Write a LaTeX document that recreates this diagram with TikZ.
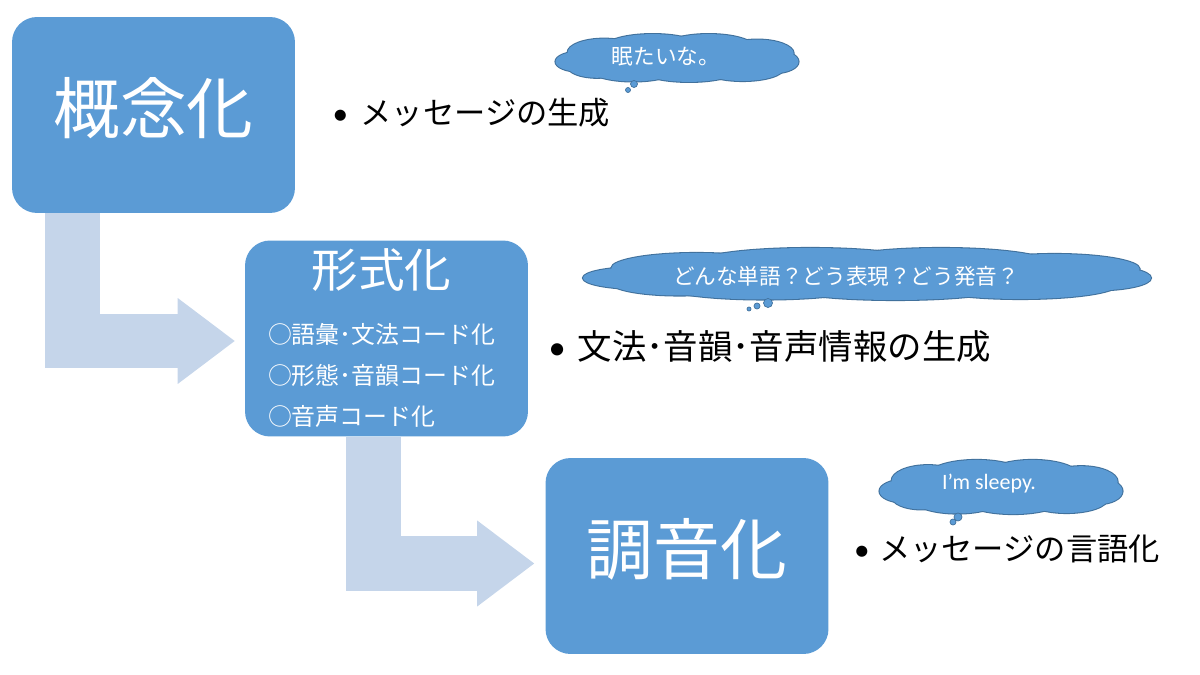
\documentclass[tikz,border=0pt]{standalone}
\usepackage{fontspec}
\setmainfont{Noto Sans CJK JP}
\newfontfamily\latinfont{Carlito}
\usetikzlibrary{arrows.meta,positioning}
\definecolor{bf}{HTML}{5B9BD5}
\definecolor{bb}{HTML}{41719C}
\definecolor{af}{HTML}{C5D5EA}
\newcommand\pufflist{-40/8/10/22,-30/-12/15/30,-10/-22/20/30,13/-22/19/30,33/-10/15/30,40/8/10/25,27/22/17/28,5/25/20/27,-18/24/18/27,-33/18/12/25}

\begin{document}
\begin{tikzpicture}[x=0.02cm,y=-0.02cm,
  bx/.style={fill=bf,rounded corners=0.5cm,minimum width=5.66cm,minimum height=3.92cm,text=white,inner sep=0pt},
  big/.style={font=\fontsize{38pt}{42pt}\selectfont,text depth=0.4cm},
  bl/.style={inner sep=0pt,font=\fontsize{17.8pt}{21pt}\selectfont},
  ct/.style={text=white,inner sep=0pt,font=\fontsize{12.3pt}{14pt}\selectfont},
  bu/.style={fill=bf,draw=bb,line width=0.4pt},
  puffs/.pic={
    \foreach \px/\py/\rx/\ry in \pufflist \draw[bb,line width=1.2pt] (\px,\py) ellipse[x radius=\rx,y radius=\ry];
    \foreach \px/\py/\rx/\ry in \pufflist \fill[bf] (\px,\py) ellipse[x radius=\rx,y radius=\ry];},
  ar/.style={draw=af,line width=1.1cm,line join=miter,-{Triangle[length=1.14cm,width=1.72cm,line width=0pt]}}]
\useasboundingbox (0,0) rectangle (1200,675);
\node[bx,big] (k) at (153.5,115) {概念化};
\node[bx,font=\fontsize{13.6pt}{23.6pt}\selectfont,text height=23pt,text depth=81pt] (f) at (386.5,338.5) {\hspace*{-0.1cm}\begin{tabular}[t]{@{}l@{}}\multicolumn{1}{@{}c@{}}{\fontsize{26.5pt}{30pt}\selectfont 形式化}\\[8pt]○語彙･文法コード化\\○形態･音韻コード化\\○音声コード化\end{tabular}\hspace*{0.1cm}};
\node[bx,big] (c) at (687,556) {調音化};
\draw[ar] ([xshift=-1.62cm]k.south) |- ([xshift=-0.2cm,yshift=-0.05cm]f.west);
\draw[ar] ([xshift=-0.27cm]f.south) |- ([xshift=-0.22cm,yshift=-0.15cm]c.west);
\node[bl,right=0.74cm of k,yshift=0.04cm] (kt) {\makebox[0.56cm][l]{\latinfont •}メッセージの生成};
\node[bl,right=0.4cm of f,yshift=-0.17cm,font=\fontsize{19.6pt}{22pt}\selectfont] (ft) {\makebox[0.58cm][l]{\latinfont •}文法･音韻･音声情報の生成};
\node[bl,right=0.5cm of c,yshift=0.14cm] (ct) {\makebox[0.5cm][l]{\latinfont •}メッセージの言語化};
\pic[xscale=2.43,yscale=0.46] at (677,58) {puffs};
\pic[xscale=5.68,yscale=0.5] at (867,274) {puffs};
\pic[xscale=2.43,yscale=0.52] at (1001,487) {puffs};
\node[ct] (u1) at (666,57) {眠たいな。};
\node[ct] (u2) at (846,276) {どんな単語？どう表現？どう発音？};
\node[ct,font=\latinfont\fontsize{12.5pt}{14pt}\selectfont] (u3) at (989,484) {I’m sleepy.};
\path[bu] (634,84) circle[radius=3.5] (628,90) circle[radius=2.5];
\path[bu] (768,303) circle[radius=4.5] (757,306) circle[radius=3] (749,309) circle[radius=2];
\path[bu] (958,517) circle[radius=4] (953,522) circle[radius=3];
\end{tikzpicture}
\end{document}
